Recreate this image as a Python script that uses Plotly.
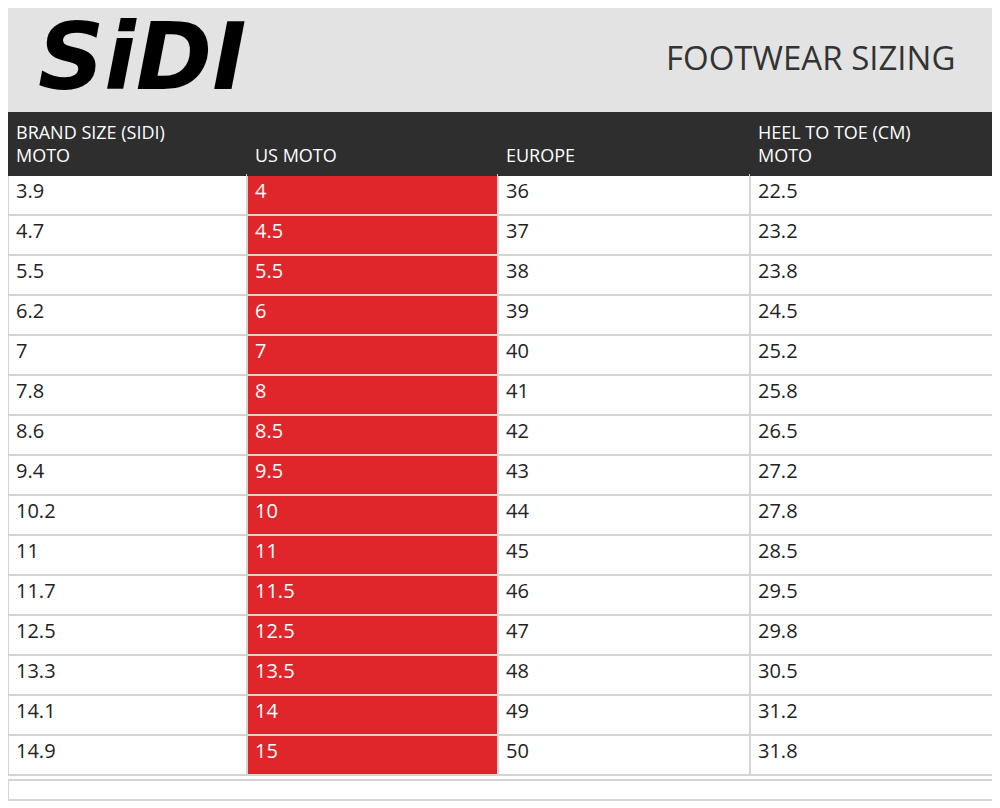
import plotly.graph_objects as go

brand_size = ["3.9", "4.7", "5.5", "6.2", "7", "7.8", "8.6", "9.4", "10.2", "11",
              "11.7", "12.5", "13.3", "14.1", "14.9"]
us_moto = ["4", "4.5", "5.5", "6", "7", "8", "8.5", "9.5", "10", "11",
           "11.5", "12.5", "13.5", "14", "15"]
europe = ["36", "37", "38", "39", "40", "41", "42", "43", "44", "45",
          "46", "47", "48", "49", "50"]
heel_to_toe = ["22.5", "23.2", "23.8", "24.5", "25.2", "25.8", "26.5", "27.2", "27.8", "28.5",
               "29.5", "29.8", "30.5", "31.2", "31.8"]
headers = ["BRAND SIZE (SIDI)<br>MOTO", "&nbsp;<br>US MOTO", "&nbsp;<br>EUROPE",
           "HEEL TO TOE (CM)<br>MOTO"]

# the page has an 8px body margin, so the figure is a little smaller
W, H = 992, 800
OFF = 8
RED = "#e0262b"


def py(y):
    return 1 - (y - OFF) / H


fig = go.Figure(go.Table(
    domain=dict(x=[0, (995 - OFF) / W], y=[0, py(112)]),
    columnwidth=[239, 251, 252, 245],
    header=dict(
        values=headers,
        fill_color="#2e2e2e",
        line_color="#2e2e2e",
        font=dict(family="Open Sans", size=18, color="white"),
        align="left",
        height=33,
    ),
    cells=dict(
        values=[brand_size, us_moto, europe, heel_to_toe],
        fill_color=[["white"] * 15, [RED] * 15, ["white"] * 15, ["white"] * 15],
        line_color="#d4d4d4",
        line_width=2,
        font=dict(family="Open Sans", size=20,
                  color=[["#222"] * 15, ["white"] * 15, ["#222"] * 15, ["#222"] * 15]),
        align="left",
        height=40,
    ),
))

fig.update_layout(
    width=W, height=H,
    margin=dict(l=0, r=0, t=0, b=0),
    paper_bgcolor="white",
    shapes=[
        dict(type="rect", xref="paper", yref="paper", x0=0, x1=(995 - OFF) / W,
             y0=py(112), y1=1, fillcolor="#e3e3e3", line_width=0, layer="below"),
        dict(type="rect", xref="paper", yref="paper", x0=0, x1=(995 - OFF) / W,
             y0=py(800), y1=py(780), fillcolor="white",
             line=dict(color="#d4d4d4", width=2)),
    ],
    annotations=[
        dict(text="<b><i>SiDI</i></b>", xref="paper", yref="paper", x=(36 - OFF) / W, y=py(57),
             xanchor="left", yanchor="middle", showarrow=False,
             font=dict(family="DejaVu Sans", size=92, color="black")),
        dict(text="FOOTWEAR SIZING", xref="paper", yref="paper", x=(957 - OFF) / W, y=py(57),
             xanchor="right", yanchor="middle", showarrow=False,
             font=dict(family="Open Sans", size=33, color="#333")),
    ],
)

fig.write_html("out.html")
